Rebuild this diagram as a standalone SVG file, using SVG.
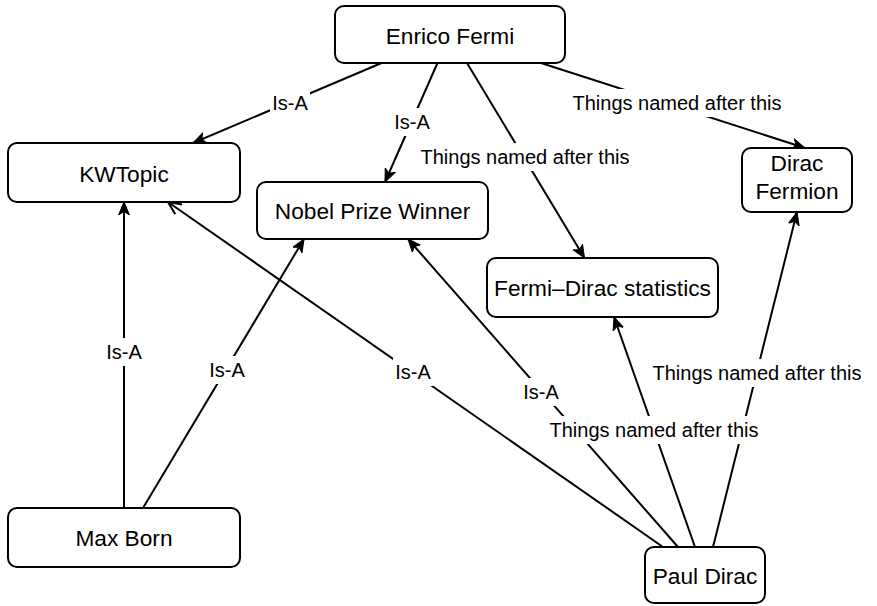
<svg xmlns="http://www.w3.org/2000/svg" width="877" height="606" viewBox="0 0 877 606">
  <style>
    .node rect { fill: #ffffff; stroke: #000000; stroke-width: 2; }
    .node text { font-family: "Liberation Sans", Arial, Helvetica, sans-serif; font-size: 22.7px; fill: #000000; text-anchor: middle; }
    .edge line { stroke: #000000; stroke-width: 2; fill: none; }
    .arrow { marker-end: url(#arrowFilled); }
    .arrow-open { marker-end: url(#arrowOpen); }
    .lbl rect { fill: #ffffff; stroke: none; }
    .lbl text { font-family: "Liberation Sans", Arial, Helvetica, sans-serif; font-size: 20px; fill: #000000; text-anchor: middle; }
  </style>
  <defs>
    <marker id="arrowFilled" markerUnits="userSpaceOnUse" markerWidth="16" markerHeight="14" refX="13" refY="6" orient="auto">
      <path d="M0,0.5 L13,6 L0,11.5 L3.5,6 Z" fill="#000000" stroke="#000000" stroke-width="1"/>
    </marker>
    <marker id="arrowOpen" markerUnits="userSpaceOnUse" markerWidth="18" markerHeight="16" refX="14" refY="7" orient="auto">
      <path d="M1,1 L14,7 L1,13" fill="none" stroke="#000000" stroke-width="2"/>
    </marker>
  </defs>

  <!-- connectors -->
  <g id="connectors">
    <g class="edge">
      <line class="arrow" x1="381.5" y1="63" x2="193" y2="143"/>
      <line class="arrow" x1="437.5" y1="63" x2="385" y2="182"/>
      <line class="arrow" x1="467" y1="63" x2="584.5" y2="258"/>
      <line class="arrow" x1="541" y1="63" x2="805" y2="148"/>
      <line class="arrow" x1="124" y1="508" x2="124" y2="202"/>
      <line class="arrow" x1="143" y1="508" x2="304" y2="239"/>
      <line class="arrow-open" x1="663" y1="547" x2="168" y2="202"/>
      <line class="arrow" x1="678" y1="547" x2="408" y2="239"/>
      <line class="arrow" x1="695" y1="547" x2="614" y2="317"/>
      <line class="arrow" x1="713" y1="547" x2="797" y2="212"/>
    </g>
    <!-- edge labels -->
    <g class="lbl">
      <rect x="270" y="89" width="40" height="28"/>
      <text x="290" y="110">Is-A</text>
      <rect x="392" y="108" width="40" height="28"/>
      <text x="412" y="129">Is-A</text>
      <rect x="419" y="143" width="213" height="28"/>
      <text x="525" y="164">Things named after this</text>
      <rect x="571" y="89" width="213" height="28"/>
      <text x="677" y="110">Things named after this</text>
      <rect x="104" y="338" width="40" height="28"/>
      <text x="124" y="359">Is-A</text>
      <rect x="207" y="356" width="40" height="28"/>
      <text x="227" y="377">Is-A</text>
      <rect x="393" y="358" width="40" height="28"/>
      <text x="413" y="379">Is-A</text>
      <rect x="521" y="378" width="40" height="28"/>
      <text x="541" y="399">Is-A</text>
      <rect x="548" y="416" width="213" height="28"/>
      <text x="654" y="437">Things named after this</text>
      <rect x="651" y="359" width="213" height="28"/>
      <text x="757" y="380">Things named after this</text>
    </g>
  </g>

  <!-- nodes -->
  <g id="enrico-fermi" class="node">
    <rect x="335" y="6" width="230" height="57" rx="9"/>
    <text x="450" y="44">Enrico Fermi</text>
  </g>
  <g id="kwtopic" class="node">
    <rect x="8" y="143" width="232" height="59" rx="9"/>
    <text x="124" y="182">KWTopic</text>
  </g>
  <g id="nobel-prize-winner" class="node">
    <rect x="257" y="182" width="231" height="57" rx="9"/>
    <text x="372.5" y="219">Nobel Prize Winner</text>
  </g>
  <g id="fermi-dirac-statistics" class="node">
    <rect x="487" y="258" width="231" height="59" rx="9"/>
    <text x="602.5" y="296">Fermi–Dirac statistics</text>
  </g>
  <g id="dirac-fermion" class="node">
    <rect x="742" y="148" width="110" height="64" rx="9"/>
    <text x="797" y="171">Dirac</text>
    <text x="797" y="199">Fermion</text>
  </g>
  <g id="max-born" class="node">
    <rect x="8" y="508" width="232" height="59" rx="9"/>
    <text x="124" y="546">Max Born</text>
  </g>
  <g id="paul-dirac" class="node">
    <rect x="645" y="547" width="120" height="56" rx="9"/>
    <text x="705" y="584">Paul Dirac</text>
  </g>
</svg>
